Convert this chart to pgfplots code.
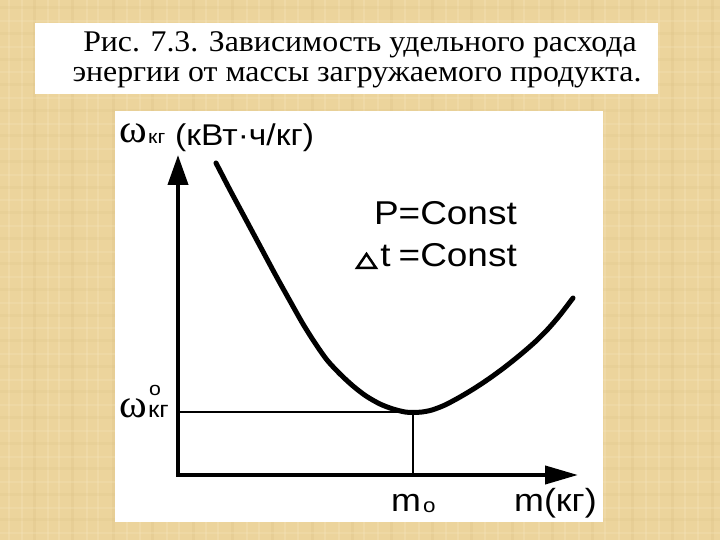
\documentclass[border=0pt]{standalone}
\usepackage{pgfplots}
\pgfplotsset{compat=1.18}
\usetikzlibrary{arrows.meta}
\usepackage{fontspec}
\setmainfont{Liberation Sans}
\newfontfamily\serif{Liberation Serif}
\definecolor{bg}{RGB}{236,212,156}
\definecolor{bgdark}{RGB}{218,190,130}
\definecolor{bglight}{RGB}{246,230,190}
\newcommand{\fs}[1]{\fontsize{#1}{#1}\selectfont}
\newcommand{\sx}[1]{\scalebox{1.12}[1]{#1}}
\begin{document}
\begin{tikzpicture}
% background (1 unit = 1pt, same as axis units)
\begin{scope}[x=1pt, y=1pt]
\fill[bg] (0,0) rectangle (720,540);
\foreach \x [count=\i] in {8,21,33,47,58,71,86,97,112,126,139,151,166,178,192,205,217,231,246,258,271,284,297,311,324,338,351,363,377,390,404,418,431,445,457,470,484,497,511,523,538,551,564,578,591,604,618,631,645,658,671,684,697,711}{
  \pgfmathparse{mod(\i,3)==0 ? 1 : 0}
  \ifnum\pgfmathresult=1
    \fill[bgdark, opacity=0.25] (\x,0) rectangle (\x+3,540);
  \else
    \fill[bglight, opacity=0.3] (\x,0) rectangle (\x+2,540);
  \fi
}
\foreach \y [count=\i] in {6,19,31,44,57,70,82,95,108,121,134,147,159,172,185,198,211,223,236,249,262,275,287,300,313,326,339,351,364,377,390,403,415,428,441,454,467,479,492,505,518,531}{
  \pgfmathparse{mod(\i,2)==0 ? 1 : 0}
  \ifnum\pgfmathresult=1
    \fill[bgdark, opacity=0.18] (0,\y) rectangle (720,\y+3);
  \else
    \fill[bglight, opacity=0.25] (0,\y) rectangle (720,\y+2);
  \fi
}
\end{scope}
\begin{axis}[at={(0,0)}, anchor=south west, scale only axis, width=720pt, height=540pt,
  xmin=0, xmax=720, ymin=0, ymax=540, hide axis, clip=false]
% white boxes
\fill[white] (axis cs:35,446) rectangle (axis cs:658,517);
\fill[white] (axis cs:115,18) rectangle (axis cs:603,429);
% title
\node[anchor=base, inner sep=0] at (axis cs:360,488) {\serif\fs{30}\scalebox{1.06}[1]{Рис. 7.3. Зависимость удельного расхода}};
\node[anchor=base, inner sep=0] at (axis cs:357,458) {\serif\fs{30}\scalebox{1.06}[1]{энергии от массы загружаемого продукта.}};
% guide lines
\addplot[line width=1.5pt, black] coordinates {(178,128) (413,128) (413,65)};
% axes
\addplot[line width=4pt, black, line join=miter,
  {Triangle[length=30pt,width=20pt]}-{Triangle[length=33pt,width=18pt]}]
  coordinates {(178,385) (178,65) (578,65)};
% curve
\addplot[line width=5pt, black, smooth, line cap=round] coordinates {
(216,377) (230,350) (245,322) (260,294) (275,266) (290,239) (303,216)
(315,197) (327,180) (340,166) (353,154) (366,144) (380,136) (393,131)
(405,128) (413,127.5) (422,128) (432,130) (445,135) (460,143) (475,152)
(490,162) (505,173) (520,185) (535,198) (548,211) (560,225) (573,242)};
% annotations
\node[anchor=base east, inner sep=0] at (axis cs:517,315) {\fs{33}\sx{P=Const}};
\node[anchor=base east, inner sep=0] at (axis cs:517,273) {\fs{33}\sx{t\hspace{-2pt} =Const}};
\draw[line width=2.5pt, line join=miter] (axis cs:357,272) -- (axis cs:376,272) -- (axis cs:366.5,286) -- cycle;
% y label
\node[anchor=base west, inner sep=0] at (axis cs:119,397) {\serif\fs{40}\scalebox{1.05}[1]{ω}};
\node[anchor=base west, inner sep=0] at (axis cs:148,396) {\fs{19}\sx{кг}};
\node[anchor=base west, inner sep=0] at (axis cs:175,394) {\fs{30}\sx{(кВт·ч/кг)}};
% omega0
\node[anchor=base west, inner sep=0] at (axis cs:119,122) {\serif\fs{40}\scalebox{1.05}[1]{ω}};
\node[anchor=base west, inner sep=0] at (axis cs:148,122) {\fs{23}\sx{кг}};
\node[anchor=base west, inner sep=0] at (axis cs:149,144) {\fs{19}\sx{o}};
% x labels
\node[anchor=base west, inner sep=0] at (axis cs:391,28) {\fs{32}\sx{m}};
\node[anchor=base west, inner sep=0] at (axis cs:423,27) {\fs{20}\sx{o}};
\node[anchor=base west, inner sep=0] at (axis cs:514,28) {\fs{32}\sx{m(кг)}};
\end{axis}
\end{tikzpicture}
\end{document}
